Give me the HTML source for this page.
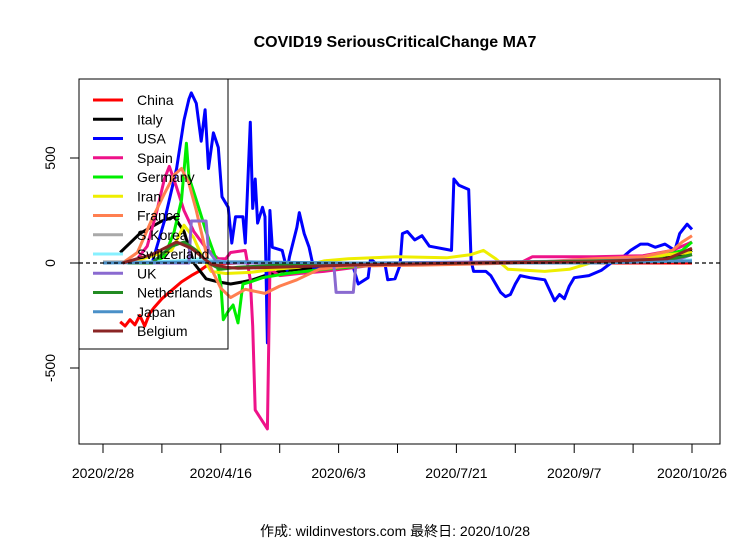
<!DOCTYPE html>
<html><head><meta charset="utf-8">
<style>
html,body{margin:0;padding:0;background:#fff;}
svg{display:block;font-family:"Liberation Sans","Noto Sans CJK JP",sans-serif;}
</style></head>
<body>
<svg id="chart" width="756" height="540" viewBox="0 0 756 540">
<text x="395" y="47" text-anchor="middle" font-size="16" font-weight="bold">COVID19 SeriousCriticalChange MA7</text>
<rect x="79" y="79" width="641" height="365" fill="none" stroke="#000" stroke-width="1"/>
<g id="series"></g>
<line id="zero" x1="79" x2="720" stroke="#000" stroke-dasharray="4,3" stroke-width="1.2"/>
<g id="xaxis"></g>
<g id="yaxis"></g>
<rect x="79" y="79" width="149" height="270" fill="none" stroke="#000" stroke-width="1"/>
<g id="legend"></g>
<text x="395" y="536" text-anchor="middle" font-size="14">作成: wildinvestors.com 最終日: 2020/10/28</text>
</svg>
<script>
const xTickLabels = ["2020/2/28","2020/4/16","2020/6/3","2020/7/21","2020/9/7","2020/10/26"];
const xTickDays = [0,48,96,144,192,240];
const yTicks = [-500,0,500];
const names = ["China","Italy","USA","Spain","Germany","Iran","France","S.Korea","Switzerland","UK","Netherlands","Japan","Belgium"];
const colors = ["#ff0000","#000000","#0000ff","#ee1289","#00ee00","#eeee00","#ff7f50","#a9a9a9","#87f0ff","#8a6ad0","#228b22","#4a90c8","#8b2525"];

const chinaDays = [7,9,11,13,15,17,19,21,24,28,32,36,39,42,46,55,240];
const chinaVals = [-280,-300,-270,-295,-250,-300,-240,-210,-170,-130,-90,-60,-40,-15,-5,0,0];
const italyDays = [7,15,24,29,33,37,42,47,52,57,61,66,72,80,100,140,200,225,235,240];
const italyVals = [50,140,200,220,150,0,-75,-90,-100,-90,-80,-60,-40,-30,-10,0,5,15,35,60];
const usaDays = [20,25,30,33,35,36,38,40,41.6,43,45,47,48.5,51,52.5,54,57,58,60,61,62,63,65,66,67,68,69,73,75,76,79,80,82,84,86,89,91,94,100,102,104,108,109,111,115,116,119,121,122,124,127,130,133,142,143,145,147,149,150,151,156,158,162,164,166,168,170,174,180,182,184,186,188,190,192,198,203,207,211,215,219,222,225,229,233,235,238,240];
const usaVals = [0,200,450,680,780,810,760,580,730,450,620,550,315,265,95,220,220,95,670,260,400,190,265,220,-380,250,75,60,-35,30,170,240,140,75,-35,-10,10,-10,-5,-20,-100,-70,20,0,-10,-80,-75,-10,140,150,110,130,80,60,400,370,360,350,10,-40,-40,-60,-140,-160,-150,-100,-60,-70,-80,-130,-180,-150,-170,-110,-70,-60,-35,0,20,60,90,90,75,90,60,140,185,160];
const spainDays = [8,14,18,22,25,27,30,33,37,42,47,50,52,58,60,61,62,67,68,72,80,90,100,110,140,170,175,200,220,232,240];
const spainVals = [0,20,80,250,400,460,360,250,150,70,20,20,50,60,-80,-300,-700,-790,-30,-60,-50,-40,-25,-10,0,0,30,30,35,60,100];
const germanyDays = [20,25,29,32,34,35,38,42,46,48,49,51,53,55,57,60,65,75,90,110,150,200,220,230,236,240];
const germanyVals = [0,30,150,300,570,410,300,150,20,-100,-270,-230,-200,-285,-100,-90,-70,-50,-30,-10,0,5,10,40,60,100];
const iranDays = [10,28,33,37,40,44,50,60,70,80,90,100,120,140,150,155,160,165,180,190,200,215,230,240];
const iranVals = [0,60,180,120,40,-40,-50,-45,-30,-20,10,20,30,25,40,60,20,-30,-40,-30,5,15,40,50];
const franceDays = [8,14,20,25,29,32,35,38,43,48,52,58,66,72,79,88,100,130,170,200,220,232,236,240];
const franceVals = [0,50,210,330,420,450,380,250,0,-120,-165,-125,-145,-110,-80,-30,-15,-10,0,20,30,60,100,130];
const koreaDays = [0,20,60,150,200,240];
const koreaVals = [5,5,0,0,5,10];
const swissDays = [10,30,40,50,100,200,240];
const swissVals = [0,10,20,5,0,5,15];
const ukDays = [10,35,36,42,43,46,50,94,95,102,103,110,200,235,240];
const ukVals = [0,0,200,200,60,10,0,0,-140,-140,-10,0,10,20,40];
const nethDays = [10,20,28,33,38,43,48,55,80,150,230,240];
const nethVals = [0,0,80,100,60,0,-30,-20,-5,0,15,40];
const japanDays = [0,40,60,100,200,240];
const japanVals = [0,5,5,0,0,10];
const belgiumDays = [8,20,30,36,44,50,55,70,100,150,200,230,240];
const belgiumVals = [0,40,100,70,-5,-20,-25,-20,-10,0,5,20,70];

const seriesDays = [chinaDays,italyDays,usaDays,spainDays,germanyDays,iranDays,franceDays,koreaDays,swissDays,ukDays,nethDays,japanDays,belgiumDays];
const seriesVals = [chinaVals,italyVals,usaVals,spainVals,germanyVals,iranVals,franceVals,koreaVals,swissVals,ukVals,nethVals,japanVals,belgiumVals];

const NS="http://www.w3.org/2000/svg";
function xScale(d){return 103 + d*(692-103)/240;}
function yScale(v){return 263 - v*(263-158)/500;}

const zl=document.getElementById('zero');
zl.setAttribute('y1',yScale(0)); zl.setAttribute('y2',yScale(0));

const sg=document.getElementById('series');
seriesVals.forEach((vals,i)=>{
  const days=seriesDays[i];
  const p=document.createElementNS(NS,'polyline');
  p.setAttribute('points',vals.map((v,j)=>xScale(days[j]).toFixed(1)+','+yScale(v).toFixed(1)).join(' '));
  p.setAttribute('fill','none');
  p.setAttribute('stroke',colors[i]);
  p.setAttribute('stroke-width','3');
  p.setAttribute('stroke-linejoin','round');
  
  
  sg.appendChild(p);
});

const xg=document.getElementById('xaxis');
for(let k=0;k<=10;k++){
  const d=k*24;
  const t=document.createElementNS(NS,'line');
  t.setAttribute('x1',xScale(d));t.setAttribute('x2',xScale(d));
  t.setAttribute('y1',444);t.setAttribute('y2',453);
  t.setAttribute('stroke','#000');
  
  
  xg.appendChild(t);
}
xTickLabels.forEach((lab,i)=>{
  const t=document.createElementNS(NS,'text');
  t.setAttribute('x',xScale(xTickDays[i]));t.setAttribute('y',478);
  t.setAttribute('text-anchor','middle');t.setAttribute('font-size','14');
  t.textContent=lab;
  
  
  xg.appendChild(t);
});

const yg=document.getElementById('yaxis');
yTicks.forEach(v=>{
  const y=yScale(v);
  const t=document.createElementNS(NS,'line');
  t.setAttribute('x1',70);t.setAttribute('x2',79);t.setAttribute('y1',y);t.setAttribute('y2',y);
  t.setAttribute('stroke','#000');
  
  
  yg.appendChild(t);
  const l=document.createElementNS(NS,'text');
  l.setAttribute('x',55);l.setAttribute('y',y);
  l.setAttribute('transform','rotate(-90 55 '+y+')');
  l.setAttribute('text-anchor','middle');l.setAttribute('font-size','14');
  l.textContent=String(v);
  
  
  yg.appendChild(l);
});

const lg=document.getElementById('legend');
names.forEach((n,i)=>{
  const y=100+i*19.25;
  const ln=document.createElementNS(NS,'line');
  ln.setAttribute('x1',93);ln.setAttribute('x2',123);ln.setAttribute('y1',y);ln.setAttribute('y2',y);
  ln.setAttribute('stroke',colors[i]);ln.setAttribute('stroke-width','3');
  
  
  lg.appendChild(ln);
  const t=document.createElementNS(NS,'text');
  t.setAttribute('x',137);t.setAttribute('y',y+5);t.setAttribute('font-size','14');
  t.textContent=n;
  
  
  lg.appendChild(t);
});
</script>
</body></html>
